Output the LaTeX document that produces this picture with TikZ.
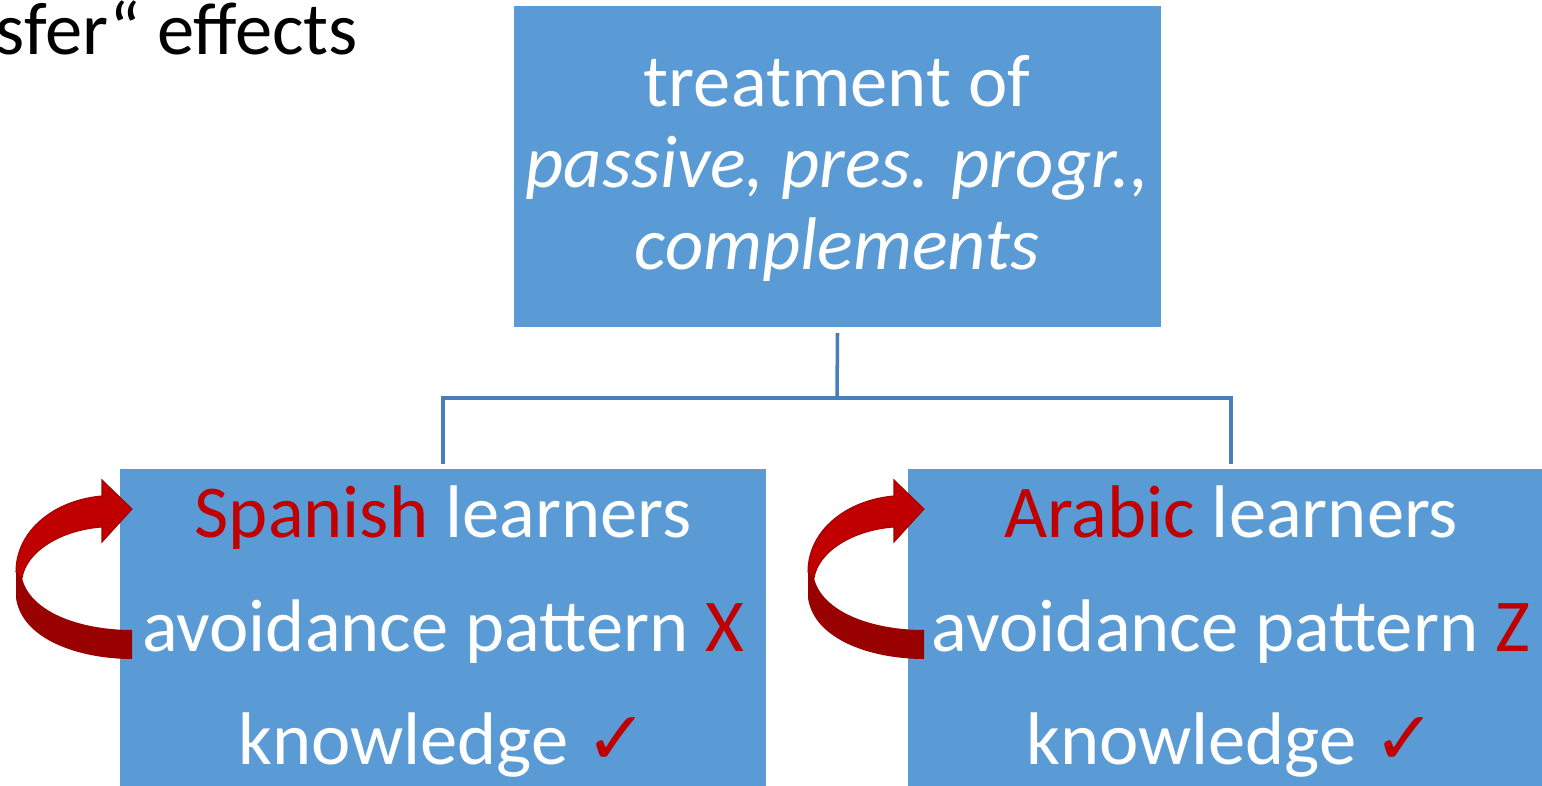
\documentclass[tikz,border=0pt]{standalone}
\usepackage{fontspec}
\setmainfont{Carlito}
\newfontfamily\checkfont{DejaVu Sans}
\usepackage{xcolor}
\usetikzlibrary{positioning}

\definecolor{boxblue}{HTML}{5B9BD5}
\definecolor{linkblue}{HTML}{4A7EBB}
\definecolor{hlred}{HTML}{C00000}
\definecolor{shadered}{HTML}{990000}

\tikzset{
  panel/.style={fill=boxblue, draw=white, line width=0.6pt, inner sep=0pt},
  boxtext/.style={text=white, anchor=base, inner sep=0pt, font=\fontsize{21.2}{25}\selectfont},
  link/.style={draw=linkblue, line width=1pt},
  turn/.style={draw=hlred!85!black, line width=0.3pt},
}

\begin{document}
\begin{tikzpicture}[x=0.01cm, y=-0.01cm]
    \useasboundingbox (0,0) rectangle (1542,786);

    % Heading, running off the left edge
    \node[anchor=base west, inner sep=0pt, font=\fontsize{21.2}{25}\selectfont] (heading) at (-5,55) {sfer“ effects};

    % Boxes
    \node[panel, minimum width=6.49cm, minimum height=3.23cm] (treat) at (837.5,166.5) {};
    \node[panel, minimum width=6.48cm, minimum height=3.32cm] (spanish) at (443,634) {};
    \node[panel, minimum width=6.48cm, minimum height=3.32cm] (arabic) at (1231,634) {};

    % Tree lines
    \coordinate (fork) at (837,398);
    \draw[link] ([yshift=-0.04cm]treat.south) -- (fork);
    \draw[link] ([yshift=0.03cm]spanish.north) |- (fork) -| ([yshift=0.03cm]arabic.north);

    % Top box text
    \node[boxtext] (treatA) at (837,107) {treatment of};
    \node[boxtext] (treatB) at (837,188) {\itshape passive, pres. progr.,};
    \node[boxtext] (treatC) at (837,270) {\itshape complements};

    % Spanish learners
    \node[boxtext] (spanA) at (443,538) {\textcolor{hlred}{Spanish} learners};
    \node[boxtext] (spanB) at (443,652) {avoidance pattern \textcolor{hlred}{X}};
    \node[boxtext] (spanC) at (443,765) {knowledge \textcolor{hlred}{\checkfont ✓}};

    % Arabic learners
    \node[boxtext] (arabA) at (1231,538) {\textcolor{hlred}{Arabic} learners};
    \node[boxtext] (arabB) at (1231,652) {avoidance pattern \textcolor{hlred}{Z}};
    \node[boxtext] (arabC) at (1231,765) {knowledge \textcolor{hlred}{\checkfont ✓}};

    % Curved arrows on the left of each box
    \foreach \dx in {0,792} {
        \begin{scope}[shift={(\dx,0)}]
            \fill[shadered] (16,566) -- (16,598) .. controls (22,640) and (80,659) .. (132,659)
                -- (132,630) .. controls (80,630) and (30,612) .. (22,578) -- cycle;
            \filldraw[turn, fill=hlred] (16,572) .. controls (16,530) and (55,500) .. (102,496)
                -- (102,480) -- (132,509) -- (102,542) -- (102,527)
                .. controls (60,530) and (26,552) .. (22,578) -- cycle;
        \end{scope}
    }
\end{tikzpicture}
\end{document}
